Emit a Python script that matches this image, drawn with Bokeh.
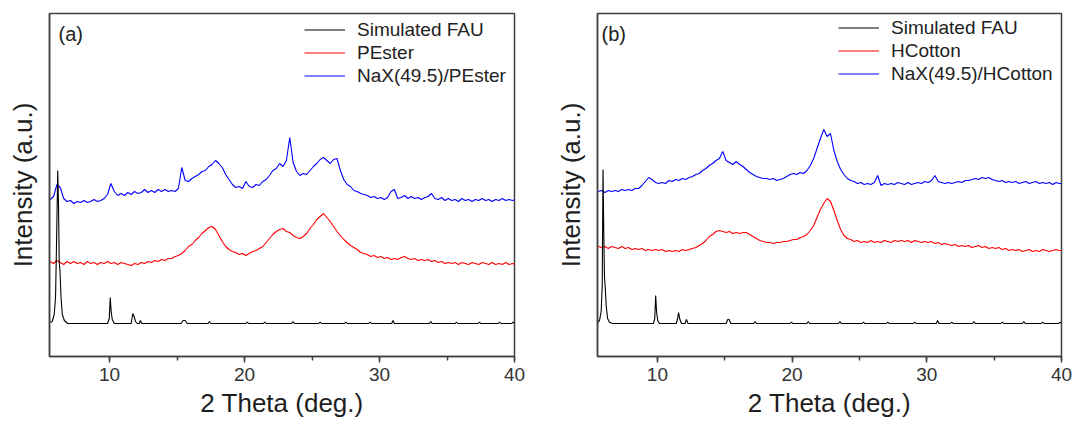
import numpy as np
from bokeh.plotting import figure
from bokeh.models import Range1d, Legend, LegendItem, Label, SingleIntervalTicker, FixedTicker
from bokeh.layouts import row
from bokeh.embed import file_html
from bokeh.resources import INLINE

FONT = "Liberation Sans"

# measurement grid (2 theta, deg.) shared by the measured patterns
two_theta = np.round(np.arange(5.6, 40.2, 0.25), 2)

# ---------------- panel (a) ----------------
fau_a_x = [5.55, 5.75, 5.9, 6.0, 6.08, 6.16, 6.22, 6.27, 6.33, 6.4, 6.5, 6.65, 6.9,
           9.85, 9.98, 10.05, 10.12, 10.2, 10.35,
           11.6, 11.72, 11.82, 11.92, 12.05, 12.2, 12.28, 12.38,
           15.3, 15.45, 15.6, 15.75,
           17.3, 17.4, 17.5, 20.1, 20.2, 20.3, 21.4, 21.5, 21.6, 23.5, 23.6, 23.7,
           25.5, 25.6, 25.7, 27.4, 27.5, 27.6, 29.2, 29.3, 29.4, 30.9, 31.0, 31.1,
           33.7, 33.8, 33.9, 35.6, 35.7, 35.8, 37.3, 37.4, 37.5, 38.8, 38.9, 39.0,
           39.8, 39.9, 40.0]
fau_a_y = [34, 35, 42, 60, 120, 186, 150, 95, 85, 60, 42, 36, 33,
           33, 38, 59, 45, 37, 33,
           33, 43, 40, 35, 33, 33, 36, 33,
           33, 36, 36, 33,
           33, 35, 33, 33, 34.5, 33, 33, 34.5, 33, 33, 35, 33,
           33, 34.5, 33, 33, 34.5, 33, 33, 34.5, 33, 33, 36, 33,
           33, 35, 33, 33, 34.5, 33, 33, 34.5, 33, 33, 34.5, 33,
           33, 34.5, 33]
pester_y = [95, 93, 96, 94, 92, 95, 93, 95, 93, 94,
            92, 95, 93, 94, 92, 94, 93, 95, 93, 94,
            92, 94, 93, 92, 91, 93, 92, 94, 93, 95,
            94, 96, 95, 97, 96, 98, 98, 100, 101, 103,
            106, 110, 112, 116, 119, 123, 126, 129, 130, 127,
            121, 115, 110, 107, 105, 104, 102, 103, 101, 103,
            105, 106, 108, 110, 114, 118, 122, 125, 127, 128,
            125, 124, 121, 119, 118, 120, 123, 128, 132, 137,
            140, 143, 139, 135, 130, 125, 121, 117, 114, 111,
            109, 107, 104, 103, 102, 100, 101, 99, 100, 98,
            99, 97, 98, 97, 99, 100, 98, 97, 98, 96,
            97, 96, 97, 95, 96, 94, 95, 93, 94, 93,
            94, 92, 94, 93, 92, 94, 93, 92, 94, 93,
            92, 94, 92, 93, 92, 94, 92, 93, 92]
nax_pester_y = [157, 160, 172, 169, 158, 155, 156, 153, 155, 154,
                156, 154, 155, 157, 155, 156, 158, 162, 173, 165,
                161, 163, 161, 164, 162, 165, 163, 164, 167, 164,
                166, 164, 167, 165, 167, 165, 166, 165, 168, 189,
                176, 175, 178, 180, 182, 185, 186, 190, 192, 196,
                193, 189, 182, 177, 172, 169, 170, 168, 175, 170,
                169, 172, 171, 175, 177, 181, 186, 188, 193, 190,
                196, 219, 194, 185, 181, 183, 182, 186, 190, 193,
                197, 199, 196, 193, 197, 198, 186, 177, 172, 170,
                166, 165, 163, 162, 161, 159, 160, 158, 159, 157,
                159, 165, 167, 158, 159, 161, 158, 160, 158, 159,
                157, 159, 160, 163, 158, 157, 159, 156, 158, 156,
                157, 155, 158, 156, 157, 155, 157, 156, 158, 156,
                157, 155, 157, 156, 158, 156, 157, 156, 157]

# ---------------- panel (b) ----------------
fau_b_x = [5.55, 5.7, 5.82, 5.9, 5.96, 6.02, 6.07, 6.12, 6.2, 6.3, 6.45, 6.7,
           9.7, 9.8, 9.87, 9.94, 10.02, 10.15,
           11.4, 11.5, 11.57, 11.65, 11.78, 12.05, 12.15, 12.27,
           15.1, 15.22, 15.32, 15.45,
           17.15, 17.25, 17.35, 19.85, 19.95, 20.05, 21.1, 21.2, 21.3,
           23.45, 23.55, 23.65, 25.2, 25.3, 25.4, 27.0, 27.1, 27.2,
           29.0, 29.1, 29.2, 30.7, 30.8, 30.9, 31.75, 31.85, 31.95,
           33.4, 33.5, 33.6, 35.5, 35.6, 35.7, 37.1, 37.2, 37.3,
           38.5, 38.6, 38.7, 39.8, 39.9, 40.0]
fau_b_y = [34, 36, 45, 70, 187, 120, 79, 70, 50, 38, 34, 33,
           33, 38, 61, 44, 36, 33,
           33, 38, 44, 38, 33, 33, 37, 33,
           33, 37, 37, 33,
           33, 35, 33, 33, 34.5, 33, 33, 35, 33,
           33, 35, 33, 33, 34.5, 33, 33, 34.5, 33,
           33, 34.5, 33, 33, 36, 33, 33, 34.5, 33,
           33, 35, 33, 33, 34.5, 33, 33, 35, 33,
           33, 34.5, 33, 33, 34.5, 33]
hcotton_y = [110, 109, 110, 108, 110, 109, 108, 110, 108, 109,
             107, 108, 107, 108, 106, 107, 106, 107, 106, 107,
             105, 106, 105, 106, 105, 107, 106, 107, 108, 109,
             111, 113, 116, 120, 122, 125, 126, 125, 124, 125,
             123, 124, 123, 124, 124, 122, 120, 118, 116, 115,
             114, 114, 113, 114, 114, 115, 115, 116, 117, 117,
             119, 120, 122, 126, 131, 139, 147, 153, 158, 155,
             146, 136, 127, 121, 118, 117, 115, 116, 114, 115,
             114, 116, 114, 115, 114, 116, 115, 114, 116, 115,
             116, 115, 116, 114, 116, 115, 114, 115, 114, 115,
             113, 114, 112, 113, 112, 111, 112, 110, 111, 110,
             111, 109, 110, 111, 109, 110, 108, 109, 108, 109,
             107, 108, 106, 107, 106, 107, 105, 106, 107, 105,
             106, 105, 107, 106, 105, 106, 107, 106, 106]
nax_hcotton_y = [165, 166, 164, 166, 165, 166, 165, 167, 166, 167,
                 166, 168, 168, 171, 175, 179, 177, 174, 173, 174,
                 173, 176, 175, 177, 176, 178, 177, 179, 180, 182,
                 183, 186, 188, 191, 193, 196, 198, 205, 196, 194,
                 192, 195, 192, 190, 187, 184, 182, 180, 179, 178,
                 178, 177, 178, 176, 177, 178, 180, 182, 183, 182,
                 184, 183, 186, 191, 198, 208, 218, 227, 220, 223,
                 206, 195, 187, 182, 178, 176, 175, 173, 174, 172,
                 173, 172, 174, 181, 171, 173, 172, 173, 172, 174,
                 173, 172, 174, 172, 173, 174, 173, 175, 174, 176,
                 181, 175, 174, 173, 174, 173, 174, 175, 174, 176,
                 176, 177, 178, 177, 179, 178, 179, 177, 176, 175,
                 176, 174, 175, 174, 175, 173, 174, 175, 173, 174,
                 175, 173, 174, 173, 174, 172, 174, 173, 173]

labels_a = ["Simulated FAU", "PEster", "NaX(49.5)/PEster"]
labels_b = ["Simulated FAU", "HCotton", "NaX(49.5)/HCotton"]

AXC = "#404040"


def make_panel(tag, tag_x, names, fau_x, fau_y, red_y, blue_y,
               left_b, right_b, width, leg_loc):
    p = figure(width=width, height=424, output_backend="svg", toolbar_location=None,
               x_range=Range1d(5.55, 40), y_range=Range1d(0, 343),
               min_border_left=left_b, min_border_right=right_b,
               min_border_top=13, min_border_bottom=68)
    p.grid.visible = False
    p.outline_line_color = AXC
    p.outline_line_width = 1.5
    p.outline_line_alpha = 1

    r_red = p.line(two_theta, red_y, line_color="#ff0000", line_width=1.1)
    r_blue = p.line(two_theta, blue_y, line_color="#0000ff", line_width=1.1)
    r_blk = p.line(fau_x, fau_y, line_color="#000000", line_width=1.1)

    xa = p.xaxis[0]
    xa.ticker = SingleIntervalTicker(interval=10, num_minor_ticks=2)
    xa.major_tick_out = 6
    xa.major_tick_in = 0
    xa.minor_tick_out = 4
    xa.minor_tick_in = 0
    xa.axis_line_color = AXC
    xa.axis_line_width = 1.5
    xa.major_tick_line_color = AXC
    xa.major_tick_line_width = 1.5
    xa.minor_tick_line_color = AXC
    xa.minor_tick_line_width = 1.5
    xa.major_label_text_font = FONT
    xa.major_label_text_font_size = "19px"
    xa.major_label_text_color = "#333333"
    xa.major_label_standoff = 5
    xa.axis_label = "2 Theta (deg.)"
    xa.axis_label_text_font = FONT
    xa.axis_label_text_font_size = "26px"
    xa.axis_label_text_font_style = "normal"
    xa.axis_label_text_color = "#1e1e1e"
    xa.axis_label_standoff = 4

    ya = p.yaxis[0]
    ya.ticker = FixedTicker(ticks=[])
    ya.major_tick_out = 0
    ya.major_tick_in = 0
    ya.minor_tick_out = 0
    ya.minor_tick_in = 0
    ya.axis_line_color = AXC
    ya.axis_line_width = 1.5
    ya.axis_label = "Intensity (a.u.)"
    ya.axis_label_text_font = FONT
    ya.axis_label_text_font_size = "26px"
    ya.axis_label_text_font_style = "normal"
    ya.axis_label_text_color = "#1e1e1e"
    ya.axis_label_standoff = 12

    legend = Legend(items=[LegendItem(label=names[0], renderers=[r_blk]),
                           LegendItem(label=names[1], renderers=[r_red]),
                           LegendItem(label=names[2], renderers=[r_blue])],
                    location=leg_loc)
    legend.background_fill_alpha = 0
    legend.border_line_alpha = 0
    legend.padding = 0
    legend.margin = 0
    legend.spacing = 0
    legend.glyph_width = 41
    legend.glyph_height = 23
    legend.label_height = 23
    legend.label_standoff = 12
    legend.label_text_font = FONT
    legend.label_text_font_size = "19px"
    legend.label_text_color = "#222222"
    p.add_layout(legend)

    p.add_layout(Label(x=tag_x, y=323, text=tag, text_font=FONT,
                       text_font_size="20px", text_color="#222222",
                       text_baseline="middle", text_align="left"))
    return p


pa = make_panel("(a)", 6.22, labels_a, fau_a_x, fau_a_y, pester_y, nax_pester_y,
                49, 38, 552, (255, 269))
pb = make_panel("(b)", 5.85, labels_b, fau_b_x, fau_b_y, hcotton_y, nax_hcotton_y,
                44, 13, 522, (241, 271))

layout = row(pa, pb)
open("out.html", "w").write(file_html(layout, INLINE))
